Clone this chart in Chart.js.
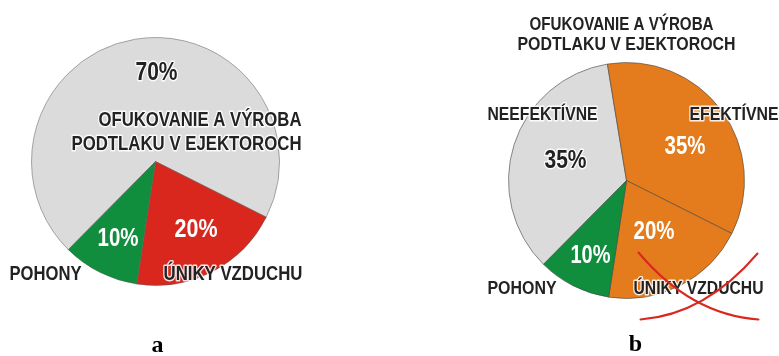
<!DOCTYPE html>
<html>
<head>
<meta charset="utf-8">
<script src="https://cdn.jsdelivr.net/npm/chart.js@4.4.1/dist/chart.umd.min.js"></script>
<style>
  html, body { margin: 0; padding: 0; background: #ffffff; }
  #wrap { position: relative; width: 779px; height: 356px; overflow: hidden; }
  .box { position: absolute; top: 0; height: 356px; }
  #boxA { left: 0; width: 390px; }
  #boxB { left: 390px; width: 389px; }
</style>
</head>
<body>
<div id="wrap">
  <div class="box" id="boxA"><canvas id="pieA"></canvas></div>
  <div class="box" id="boxB"><canvas id="pieB"></canvas></div>
</div>
<script>
// Chart a: compressed-air consumption split
const categoriesA = ['OFUKOVANIE A VÝROBA PODTLAKU V EJEKTOROCH', 'ÚNIKY VZDUCHU', 'POHONY'];
const valuesA = [70, 20, 10];

// Chart b: blow-off / vacuum share divided into effective and ineffective use
const categoriesB = ['NEEFEKTÍVNE', 'EFEKTÍVNE', 'ÚNIKY VZDUCHU', 'POHONY'];
const valuesB = [35, 35, 20, 10];

const GRAY = '#dbdbdb';
const RED = '#d9271e';
const GREEN = '#108e3e';
const ORANGE = '#e47b1c';
const DARK = '#222222';
const FONT = '"Liberation Sans", Arial, sans-serif';

// Bold sans text squeezed horizontally to a narrow-face width
function drawText(ctx, text, x, y, opts) {
  ctx.save();
  ctx.font = 'bold ' + opts.size + 'px ' + FONT;
  ctx.textBaseline = 'middle';
  const natural = ctx.measureText(text).width;
  const s = opts.w ? opts.w / natural : 0.82;
  ctx.translate(x, y);
  ctx.scale(s, 1);
  ctx.textAlign = opts.align || 'center';
  if (opts.halo) {
    ctx.strokeStyle = 'rgba(255,255,255,0.85)';
    ctx.lineWidth = 3;
    ctx.lineJoin = 'round';
    ctx.strokeText(text, 0, 0);
  }
  ctx.fillStyle = opts.color || DARK;
  ctx.fillText(text, 0, 0);
  ctx.restore();
}

// Draws the slice captions, offsets are measured from the pie centre
const captionPlugin = {
  id: 'captions',
  afterDraw(chart, args, opts) {
    const arc = chart.getDatasetMeta(0).data[0];
    if (!arc) return;
    const cx = arc.x, cy = arc.y;
    const ctx = chart.ctx;
    (opts.items || []).forEach(it => {
      drawText(ctx, it.text, cx + it.dx, cy + it.dy, it);
    });
    if (opts.cross) {
      const c = opts.cross;
      const ox = cx + c.dx, oy = cy + c.dy;
      ctx.save();
      ctx.strokeStyle = RED;
      ctx.lineWidth = 2;
      ctx.lineCap = 'round';
      ctx.beginPath();
      ctx.moveTo(ox - 60, oy - 36);
      ctx.quadraticCurveTo(ox - 8, oy + 26, ox + 60, oy + 31);
      ctx.stroke();
      ctx.beginPath();
      ctx.moveTo(ox - 58, oy + 31);
      ctx.quadraticCurveTo(ox + 7, oy + 26, ox + 59, oy - 35);
      ctx.stroke();
      ctx.restore();
    }
    if (opts.caption) {
      ctx.save();
      ctx.font = 'bold 24px "Liberation Serif", "DejaVu Serif", serif';
      ctx.textAlign = 'center';
      ctx.textBaseline = 'middle';
      ctx.fillStyle = '#000';
      ctx.fillText(opts.caption.text, cx + opts.caption.dx, cy + opts.caption.dy);
      ctx.restore();
    }
  }
};

function baseOptions(padding, pluginOpts) {
  return {
    responsive: true,
    maintainAspectRatio: false,
    animation: false,
    rotation: 224.7,
    layout: { padding },
    plugins: {
      legend: { display: false },
      tooltip: { enabled: false },
      captions: pluginOpts
    }
  };
}

new Chart(document.getElementById('pieA'), {
  type: 'pie',
  data: {
    labels: categoriesA,
    datasets: [{
      data: valuesA,
      backgroundColor: [GRAY, RED, GREEN],
      borderColor: 'rgba(90,90,90,0.5)',
      borderWidth: 1
    }]
  },
  options: baseOptions({ left: 31, right: 110, top: 37, bottom: 70 }, {
    items: [
      { text: valuesA[0] + '%', dx: 1, dy: -88, size: 25, w: 42, halo: true },
      { text: 'OFUKOVANIE A VÝROBA', dx: 146, dy: -41, size: 20, w: 203, align: 'right', halo: true },
      { text: 'PODTLAKU V EJEKTOROCH', dx: 146, dy: -17, size: 20, w: 230, align: 'right', halo: true },
      { text: valuesA[1] + '%', dx: 40.5, dy: 69, size: 25, w: 43, color: '#ffffff' },
      { text: valuesA[2] + '%', dx: -37.5, dy: 78, size: 25, w: 41, color: '#ffffff' },
      { text: categoriesA[2], dx: -110, dy: 113, size: 20, w: 72, halo: true },
      { text: categoriesA[1], dx: 77.5, dy: 113, size: 20, w: 139, halo: true }
    ],
    caption: { text: 'a', dx: 2, dy: 184 }
  }),
  plugins: [captionPlugin]
});

new Chart(document.getElementById('pieB'), {
  type: 'pie',
  data: {
    labels: categoriesB,
    datasets: [{
      data: valuesB,
      backgroundColor: [GRAY, ORANGE, ORANGE, GREEN],
      borderColor: 'rgba(70,70,70,0.6)',
      borderWidth: 1
    }]
  },
  options: baseOptions({ left: 118, right: 34, top: 62, bottom: 57 }, {
    items: [
      { text: 'OFUKOVANIE A VÝROBA', dx: -5, dy: -156, size: 19, w: 184, halo: true },
      { text: 'PODTLAKU V EJEKTOROCH', dx: 0, dy: -135.5, size: 19, w: 218, halo: true },
      { text: categoriesB[0], dx: -84, dy: -66, size: 19, w: 110, halo: true },
      { text: categoriesB[1], dx: 107.5, dy: -66, size: 19, w: 89, halo: true },
      { text: valuesB[0] + '%', dx: -61, dy: -19, size: 25, w: 42, halo: true },
      { text: valuesB[1] + '%', dx: 58.5, dy: -33, size: 25, w: 41, color: '#ffffff' },
      { text: valuesB[2] + '%', dx: 27.5, dy: 52, size: 25, w: 41, color: '#ffffff' },
      { text: valuesB[3] + '%', dx: -36, dy: 76, size: 25, w: 40, color: '#ffffff' },
      { text: categoriesB[3], dx: -104.5, dy: 108, size: 19, w: 69, halo: true },
      { text: categoriesB[2], dx: 72, dy: 108, size: 19, w: 130, halo: true }
    ],
    cross: { dx: 72, dy: 108 },
    caption: { text: 'b', dx: 9, dy: 164 }
  }),
  plugins: [captionPlugin]
});
</script>
</body>
</html>
